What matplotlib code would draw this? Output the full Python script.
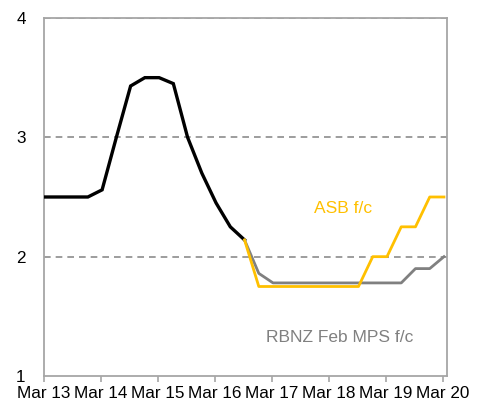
import numpy as np
import matplotlib
matplotlib.use("Agg")
import matplotlib.pyplot as plt

plt.rcParams['font.family'] = ['Liberation Sans', 'DejaVu Sans']

# quarterly values, Mar 2013 = quarter 0
tick_labels = ["Mar 13", "Mar 14", "Mar 15", "Mar 16", "Mar 17", "Mar 18", "Mar 19", "Mar 20"]
hist_vals = [2.5, 2.5, 2.5, 2.5, 2.56, 3.0, 3.43, 3.5, 3.5, 3.45, 3.0, 2.7, 2.45, 2.25, 2.14]
rbnz_vals = [2.14, 1.86, 1.78, 1.78, 1.78, 1.78, 1.78, 1.78, 1.78, 1.78, 1.78, 1.78, 1.9, 1.9, 2.0]
asb_vals = [2.14, 1.75, 1.75, 1.75, 1.75, 1.75, 1.75, 1.75, 1.75, 2.0, 2.0, 2.25, 2.25, 2.5, 2.5]

offset = 0.1
x_hist = np.arange(len(hist_vals)) + offset
x_fc = np.arange(len(hist_vals) - 1, len(hist_vals) - 1 + len(rbnz_vals)) + offset

fig = plt.figure(figsize=(4.82, 4.05), dpi=100)
ax = fig.add_axes([0.0907, 0.0716, 0.8363, 0.884])

grid_col = "#8c8c8c"
for yv in [2, 3, 4]:
    ax.axhline(yv, color=grid_col, linestyle=(0, (4, 3)), linewidth=1.2, zorder=1)

ax.plot(x_hist, hist_vals, color="black", linewidth=2.4, solid_joinstyle='miter', zorder=3)
ax.plot(x_fc, rbnz_vals, color="#808080", linewidth=2.0, zorder=3)
ax.plot(x_fc, asb_vals, color="#FFC000", linewidth=2.0, zorder=4)

ax.text(21.0, 2.40, "ASB f/c", color="#FFC000", fontsize=12.5, ha='center', va='center')
ax.text(20.8, 1.32, "RBNZ Feb MPS f/c", color="#808080", fontsize=12.5, ha='center', va='center')

ax.set_xlim(0, 28.3)
ax.set_ylim(1, 4)
ax.set_xticks(np.arange(0, 29, 4))
ax.set_xticklabels(tick_labels, fontsize=12.3)
ax.set_yticks([1, 2, 3, 4])
ax.set_yticklabels(["1", "2", "3", "4"], fontsize=12.3)
ax.tick_params(axis='y', length=0, pad=13)
ax.tick_params(axis='x', length=4, width=1.2, color="#a6a6a6", pad=3)

for s in ax.spines.values():
    s.set_color("#a6a6a6")
    s.set_linewidth(1.3)

fig.savefig("out.png", dpi=100)
